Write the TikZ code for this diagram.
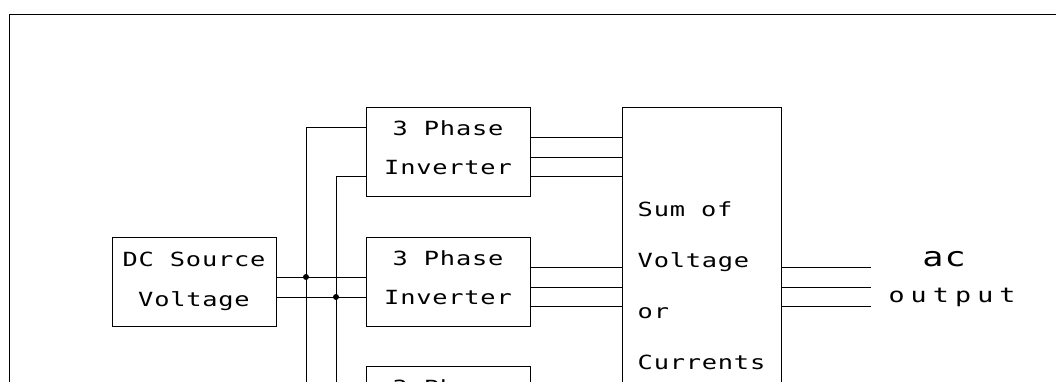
\documentclass[tikz,border=0pt]{standalone}
\usepackage{fontspec}
\usepackage{tikz}
\newfontfamily\plotfont[FakeStretch=1.3,LetterSpace=4]{DejaVu Sans Mono}
\newfontfamily\plotwide[FakeStretch=1.3,LetterSpace=30]{DejaVu Sans Mono}
\newcommand{\invtxt}{3 Phase\\Inverter\rule[-7pt]{0pt}{7pt}}

\begin{document}
\begin{tikzpicture}[x=1pt,y=-1pt,line width=1pt,
  blk/.style={draw,inner sep=0pt,minimum width=164pt,minimum height=89pt,align=center},
  lbl/.style={font=\plotfont\fontsize{19.5}{#1}\selectfont},
  dot/.style={circle,fill,inner sep=0pt,minimum size=6pt}]
\clip (0,0) rectangle (1056,381);
% frame of the sheet
\draw (1056,14) -- (9,14) -- (9,390);
% source, inverters and summing block
\node[blk,lbl=40] (dc) at (194,281.5) {DC Source\\Voltage};
\node[blk,lbl=39] (invA) at (448,151.5) {\invtxt};
\node[blk,lbl=39] (invB) at (448,281.5) {\invtxt};
\node[blk,lbl=39] (invC) at (448,410.5) {\invtxt};
\node[draw,inner sep=0pt,minimum width=159pt,minimum height=349pt,
  align=left,lbl=51] (sum) at (701.5,281.5) {\rule{0pt}{24pt}Sum of\\Voltage\\or\\Currents};
% dc buses
\coordinate (busL) at (306,400);
\coordinate (busR) at (336,400);
\coordinate (out) at (871,281.5);
\draw ([yshift=4.5pt]dc.east) coordinate (dcP) -- ([yshift=4.5pt]invB.west);
\draw ([yshift=-15.5pt]dc.east) coordinate (dcN) -- ([yshift=-15.5pt]invB.west);
\draw ([yshift=24.5pt]invA.west) -| (busL);
\draw ([yshift=-24.5pt]invA.west) -| (busR);
\draw ([yshift=24.5pt]invC.west) -| (busL);
\draw ([yshift=-24.5pt]invC.west) -| (busR);
\node[dot] (jP) at (busL |- dcP) {};
\node[dot] (jN) at (busR |- dcN) {};
% three phase outputs
\foreach \inv in {invA,invB,invC}
  \foreach \dy in {14.5,-5.5,-24.5}
    \draw ([yshift=\dy pt]\inv.east) -- ([yshift=\dy pt]\inv.east -| sum.west);
\foreach \dy in {14.5,-5.5,-24.5}
  \draw ([yshift=\dy pt]sum.east) -- ([yshift=\dy pt]out);
\node[font=\plotfont\fontsize{27}{30}\selectfont] (ac) at (944,259) {ac};
\node[font=\plotwide\fontsize{20.5}{24}\selectfont] (acout) at (952,297) {output};
\end{tikzpicture}
\end{document}
